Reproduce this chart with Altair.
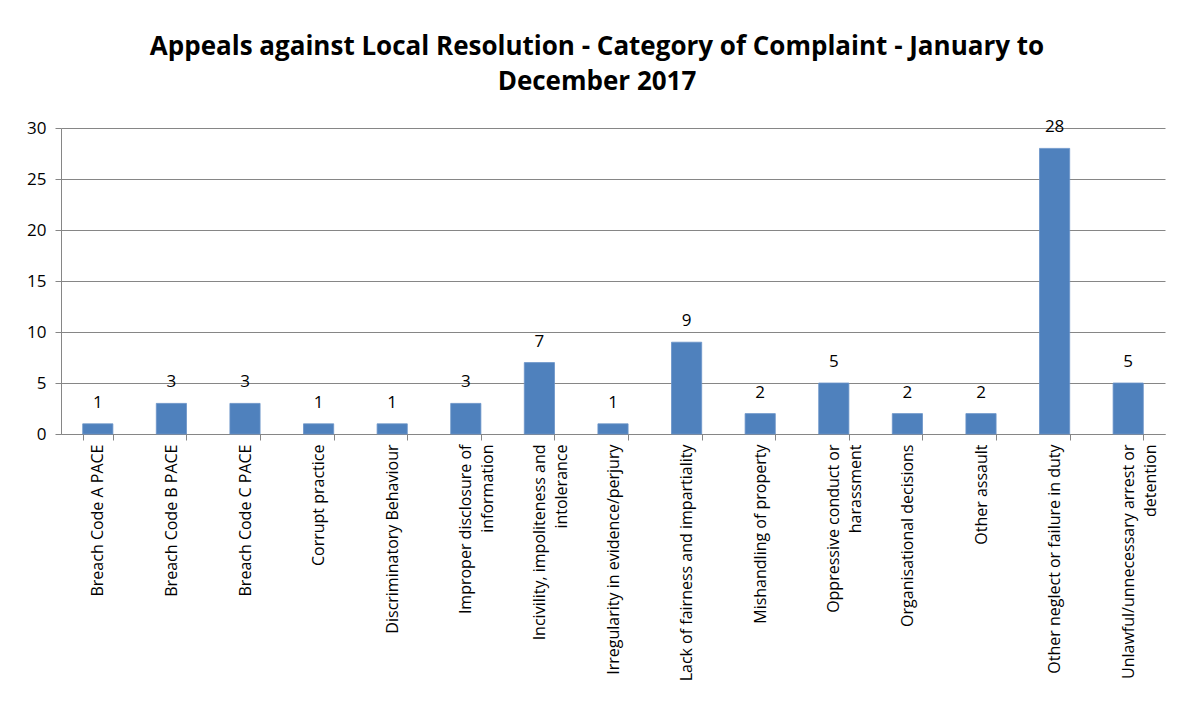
import altair as alt
import pandas as pd

categories = [
    "Breach Code A PACE",
    "Breach Code B PACE",
    "Breach Code C PACE",
    "Corrupt practice",
    "Discriminatory Behaviour",
    "Improper disclosure of\ninformation",
    "Incivility, impoliteness and\nintolerance",
    "Irregularity in evidence/perjury",
    "Lack of fairness and impartiality",
    "Mishandling of property",
    "Oppressive conduct or\nharassment",
    "Organisational decisions",
    "Other assault",
    "Other neglect or failure in duty",
    "Unlawful/unnecessary arrest or\ndetention",
]
values = [1, 3, 3, 1, 1, 3, 7, 1, 9, 2, 5, 2, 2, 28, 5]
y_ticks = [0, 5, 10, 15, 20, 25, 30]
title_lines = [
    "Appeals against Local Resolution - Category of Complaint - January to",
    "December 2017",
]

df = pd.DataFrame({"category": categories, "value": values})

FONT = "Open Sans"

x_enc = alt.X(
    "category:N",
    sort=categories,
    title=None,
    scale=alt.Scale(paddingInner=0.59, paddingOuter=0.295),
    axis=alt.Axis(
        labelAngle=-90,
        labelAlign="right",
        labelBaseline="middle",
        labelExpr="isValid(datum.value) ? split(datum.value, '\\n') : ''",
        labelFont=FONT,
        labelFontSize=16,
        labelColor="#000000",
        labelPadding=4,
        labelLimit=300,
        labelLineHeight=22,
        tickBand="extent",
        tickSize=6,
        tickColor="#868686",
        domainColor="#868686",
        grid=False,
    ),
)

bars = alt.Chart(df).mark_bar(color="#4F81BD", stroke="#6a93c8", strokeWidth=0.8).encode(
    x=x_enc,
    y=alt.Y(
        "value:Q",
        title=None,
        scale=alt.Scale(domain=[0, 30], nice=False),
        axis=alt.Axis(
            values=y_ticks,
            labelFont=FONT,
            labelFontSize=17,
            labelColor="#000000",
            labelPadding=9,
            tickSize=6,
            tickColor="#868686",
            domainColor="#868686",
            gridColor="#868686",
            gridWidth=1,
        ),
    ),
)

labels = alt.Chart(df).mark_text(
    font=FONT, fontSize=17, color="#000000", baseline="middle", dy=-21
).encode(
    x=alt.X("category:N", sort=categories),
    y="value:Q",
    text="value:Q",
)

chart = (
    alt.layer(bars, labels)
    .properties(
        width=1104,
        height=306,
        autosize=alt.AutoSizeParams(type="none"),
        padding={"left": 53, "top": 120, "right": 8, "bottom": 277},
        title=alt.TitleParams(
            text=title_lines,
            font=FONT,
            fontSize=26,
            fontWeight="bold",
            color="#000000",
            anchor="middle",
            dx=-16,
            offset=23,
            lineHeight=35,
        ),
    )
    .configure_view(stroke=None)
)

chart.save("out.html", embed_options={"renderer": "svg", "actions": False})
